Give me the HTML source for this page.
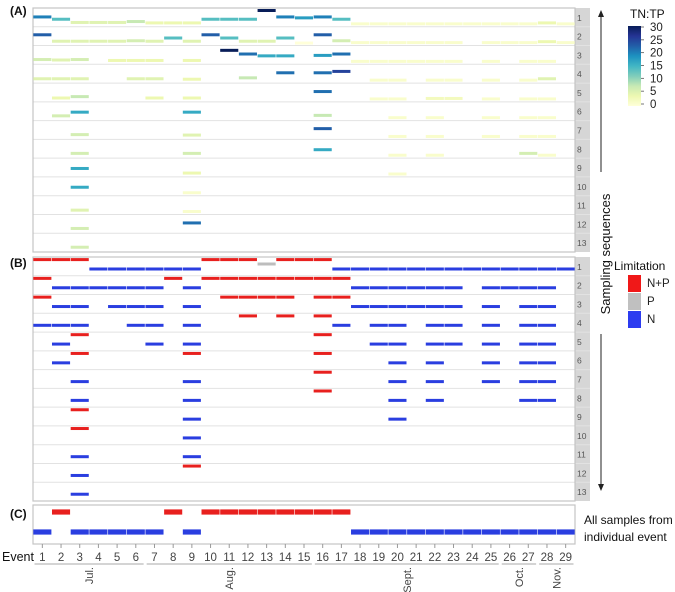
<!DOCTYPE html>
<html><head><meta charset="utf-8">
<style>
body{margin:0;background:#fff;}
svg{display:block;font-family:"Liberation Sans",sans-serif;}
</style></head>
<body>
<svg id="chart" width="675" height="592" viewBox="0 0 675 592" xmlns="http://www.w3.org/2000/svg">
<defs>
<linearGradient id="ylgnbu" x1="0" y1="1" x2="0" y2="0">
<stop offset="0" stop-color="#ffffd9"/><stop offset="0.125" stop-color="#edf8b1"/><stop offset="0.25" stop-color="#c7e9b4"/><stop offset="0.375" stop-color="#7fcdbb"/><stop offset="0.5" stop-color="#41b6c4"/><stop offset="0.625" stop-color="#1d91c0"/><stop offset="0.75" stop-color="#225ea8"/><stop offset="0.875" stop-color="#253494"/><stop offset="1" stop-color="#081d58"/>
</linearGradient>
</defs>
<g id="layer"></g>
</svg>
<script>
const _=null, N='N', P='P', X='NP';
const events=[1,2,3,4,5,6,7,8,9,10,11,12,13,14,15,16,17,18,19,20,21,22,23,24,25,26,27,28,29];
const months=['Jul.','Aug.','Sept.','Oct.','Nov.'];
const monthStart=[0.5,6.5,15.5,25.5,27.5];
const monthEnd=[6.5,15.5,25.5,27.5,29.5];
const colorTicks=[0,5,10,15,20,25,30];
const ratioRows=[
[16,11,4,4,4,6,3,3,3,11,11,11,30,16,14,16,11,1,1,1,1,1,1,1,1,1,1,3,1],
[18,4,4,4,4,5,4,11,4,18,11,4,4,11,0,18,5,1,1,1,1,1,1,_,1,1,1,3,1],
[5,4,5,_,3,3,3,_,3,_,25,17,13,13,_,14,17,1,1,1,1,1,1,_,1,_,1,1,_],
[4,4,4,_,_,4,4,_,3,_,_,6,_,17,_,17,20,_,1,1,_,1,1,_,1,_,1,4,_],
[_,3,6,_,_,_,3,_,3,_,_,_,_,_,_,17,_,_,1,1,_,2,2,_,1,_,1,1,_],
[_,5,13,_,_,_,_,_,13,_,_,_,_,_,_,6,_,_,_,1,_,1,_,_,1,_,1,1,_],
[_,_,5,_,_,_,_,_,4,_,_,_,_,_,_,18,_,_,_,1,_,1,_,_,1,_,1,1,_],
[_,_,5,_,_,_,_,_,5,_,_,_,_,_,_,13,_,_,_,1,_,1,_,_,_,_,5,1,_],
[_,_,13,_,_,_,_,_,3,_,_,_,_,_,_,_,_,_,_,1,_,_,_,_,_,_,_,_,_],
[_,_,13,_,_,_,_,_,1,_,_,_,_,_,_,_,_,_,_,_,_,_,_,_,_,_,_,_,_],
[_,_,4,_,_,_,_,_,1,_,_,_,_,_,_,_,_,_,_,_,_,_,_,_,_,_,_,_,_],
[_,_,5,_,_,_,_,_,17,_,_,_,_,_,_,_,_,_,_,_,_,_,_,_,_,_,_,_,_],
[_,_,5,_,_,_,_,_,_,_,_,_,_,_,_,_,_,_,_,_,_,_,_,_,_,_,_,_,_]
];
const limitRows=[
[X,X,X,N,N,N,N,N,N,X,X,X,P,X,X,X,N,N,N,N,N,N,N,N,N,N,N,N,N],
[X,N,N,N,N,N,N,X,N,X,X,X,X,X,X,X,X,N,N,N,N,N,N,_,N,N,N,N,_],
[X,N,N,_,N,N,N,_,N,_,X,X,X,X,_,X,X,N,N,N,N,N,N,_,N,_,N,N,_],
[N,N,N,_,_,N,N,_,N,_,_,X,_,X,_,X,N,_,N,N,_,N,N,_,N,_,N,N,_],
[_,N,X,_,_,_,N,_,N,_,_,_,_,_,_,X,_,_,N,N,_,N,N,_,N,_,N,N,_],
[_,N,X,_,_,_,_,_,X,_,_,_,_,_,_,X,_,_,_,N,_,N,_,_,N,_,N,N,_],
[_,_,N,_,_,_,_,_,N,_,_,_,_,_,_,X,_,_,_,N,_,N,_,_,N,_,N,N,_],
[_,_,N,_,_,_,_,_,N,_,_,_,_,_,_,X,_,_,_,N,_,N,_,_,_,_,N,N,_],
[_,_,X,_,_,_,_,_,N,_,_,_,_,_,_,_,_,_,_,N,_,_,_,_,_,_,_,_,_],
[_,_,X,_,_,_,_,_,N,_,_,_,_,_,_,_,_,_,_,_,_,_,_,_,_,_,_,_,_],
[_,_,N,_,_,_,_,_,N,_,_,_,_,_,_,_,_,_,_,_,_,_,_,_,_,_,_,_,_],
[_,_,N,_,_,_,_,_,X,_,_,_,_,_,_,_,_,_,_,_,_,_,_,_,_,_,_,_,_],
[_,_,N,_,_,_,_,_,_,_,_,_,_,_,_,_,_,_,_,_,_,_,_,_,_,_,_,_,_]
];
const allSamples=[N,X,N,N,N,N,N,X,N,X,X,X,X,X,X,X,X,N,N,N,N,N,N,N,N,N,N,N,N];

const NS='http://www.w3.org/2000/svg';
const L=document.getElementById('layer');
function mk(tag,attrs,parent){const e=document.createElementNS(NS,tag);for(const k in attrs)e.setAttribute(k,attrs[k]);(parent||L).appendChild(e);return e;}
const x0=33,x1=575,colW=(x1-x0)/events.length;
function xs(i){return x0+i*colW;}
function xc(ev){return x0+(ev-0.5)*colW;}
const stops=[[0,'#ffffd9'],[0.125,'#edf8b1'],[0.25,'#c7e9b4'],[0.375,'#7fcdbb'],[0.5,'#41b6c4'],[0.625,'#1d91c0'],[0.75,'#225ea8'],[0.875,'#253494'],[1,'#081d58']];
function hex(h){return [1,3,5].map(i=>parseInt(h.substr(i,2),16));}
function cmap(v){let t=Math.max(0,Math.min(1,v/24));for(let i=1;i<stops.length;i++){if(t<=stops[i][0]){const a=stops[i-1],b=stops[i];const f=(t-a[0])/(b[0]-a[0]);const ca=hex(a[1]),cb=hex(b[1]);return 'rgb('+ca.map((c,j)=>Math.round(c+(cb[j]-c)*f)).join(',')+')';}}return stops[8][1];}
const limColor={NP:'#e8201e',P:'#bdbdbd',N:'#2a3ee0'};
const limOffset={NP:2.6,P:7,N:12};

function panel(top,bottom,rows,name){
  const g=mk('g',{});
  
  
  const rh=(bottom-top)/rows;
  const strip=mk('rect',{x:x1,y:top,width:15,height:bottom-top,fill:'#d6d6d6'},g);
  
  
  for(let r=1;r<rows;r++){
    const ln=mk('line',{x1:x0,x2:x1+15,y1:top+r*rh,y2:top+r*rh,stroke:'#e2e2e2','stroke-width':1},g);
    
    
  }
  for(let r=0;r<rows;r++){
    const t=mk('text',{x:x1+2,y:top+r*rh+rh/2+3.5,'font-size':8.5,fill:'#555'},g);
    t.textContent=r+1;
    
    
  }
  const box=mk('rect',{x:x0,y:top,width:x1-x0,height:bottom-top,fill:'none',stroke:'#c4c4c4','stroke-width':1.2},g);
  
  
  return {g,rh};
}
const pA=panel(8,252,13,'panel-a-tn-tp');
ratioRows.forEach((row,r)=>row.forEach((v,i)=>{
  if(v===null)return;
  const y=8+r*pA.rh+16.3-v*0.46;
  const s=mk('rect',{x:xs(i)+0.3,y:y-1.5,width:colW-0.6,height:3,fill:cmap(v)},pA.g);
  
  
}));
const pB=panel(257,501,13,'panel-b-limitation');
limitRows.forEach((row,r)=>row.forEach((c,i)=>{
  if(c===null)return;
  const y=257+r*pB.rh+limOffset[c];
  const s=mk('rect',{x:xs(i)+0.3,y:y-1.5,width:colW-0.6,height:3,fill:limColor[c]},pB.g);
  
  
}));
const gC=mk('g',{});


const cbox=mk('rect',{x:x0,y:505,width:x1-x0,height:39,fill:'none',stroke:'#c4c4c4','stroke-width':1.2},gC);


allSamples.forEach((c,i)=>{
  const y=c==='N'?532:512;
  const s=mk('rect',{x:xs(i)+0.3,y:y-2.6,width:colW-0.6,height:5.2,fill:limColor[c]},gC);
  
  
});
const ax=mk('g',{});


events.forEach((ev)=>{
  const tk=mk('line',{x1:xc(ev),x2:xc(ev),y1:544,y2:548,stroke:'#999','stroke-width':1},ax);
  
  
  const t=mk('text',{x:xc(ev),y:561,'font-size':11.5,'text-anchor':'middle',fill:'#444'},ax);
  t.textContent=ev;
  
  
});
const evl=mk('text',{x:2,y:561,'font-size':12.5,fill:'#111'},ax);
evl.textContent='Event';


months.forEach((m,i)=>{
  const a=xc(monthStart[i])+1.5,b=xc(monthEnd[i])-1.5;
  const br=mk('line',{x1:a,x2:b,y1:564,y2:564,stroke:'#bbb','stroke-width':1.2},ax);
  
  
  const cx=(xc(monthStart[i])+xc(monthEnd[i]))/2;
  const t=mk('text',{x:cx+4,y:567,'font-size':11,'text-anchor':'end',fill:'#444',transform:'rotate(-90 '+(cx+4)+' 567)'},ax);
  t.textContent=m;
  
  
});
[['(A)',15],['(B)',267],['(C)',518]].forEach(([s,y])=>{
  const t=mk('text',{x:10,y:y,'font-size':12,'font-weight':'bold',fill:'#111'});
  t.textContent=s;
  
  
});
const sq=mk('g',{});


mk('line',{x1:601,x2:601,y1:16,y2:172,stroke:'#222','stroke-width':1},sq);
mk('polygon',{points:'598,17 604,17 601,10',fill:'#222'},sq);
mk('line',{x1:601,x2:601,y1:334,y2:485,stroke:'#222','stroke-width':1},sq);
mk('polygon',{points:'598,484 604,484 601,491',fill:'#222'},sq);
const sqt=mk('text',{x:610,y:254,'font-size':13,'text-anchor':'middle',fill:'#111',transform:'rotate(-90 610 254)'},sq);
sqt.textContent='Sampling sequences';


const cb=mk('g',{});


const cbt=mk('text',{x:630,y:18,'font-size':12,fill:'#111'},cb);
cbt.textContent='TN:TP';


mk('rect',{x:628,y:26,width:13,height:80,fill:'url(#ylgnbu)'},cb);
colorTicks.forEach(v=>{
  const y=104-v*(77/30);
  mk('line',{x1:641,x2:644,y1:y,y2:y,stroke:'#555','stroke-width':0.8},cb);
  const t=mk('text',{x:650,y:y+4,'font-size':11.5,fill:'#222'},cb);
  t.textContent=v;
  
  
});
const lg=mk('g',{});


const lgt=mk('text',{x:614,y:270,'font-size':12,fill:'#111'},lg);
lgt.textContent='Limitation';


[['NP','N+P',275],['P','P',293],['N','N',311]].forEach(([k,lab,y])=>{
  const r=mk('rect',{x:628,y:y,width:13,height:17,fill:k==='NP'?'#f01818':k==='P'?'#c0c0c0':'#2c3cf0'},lg);
  
  
  const t=mk('text',{x:647,y:y+12,'font-size':11.5,fill:'#222'},lg);
  t.textContent=lab;
  
  
});
[['All samples from',524],['individual event',541]].forEach(([s,y])=>{
  const t=mk('text',{x:584,y:y,'font-size':12,fill:'#111'});
  t.textContent=s;
  
  
});
</script>
</body></html>
